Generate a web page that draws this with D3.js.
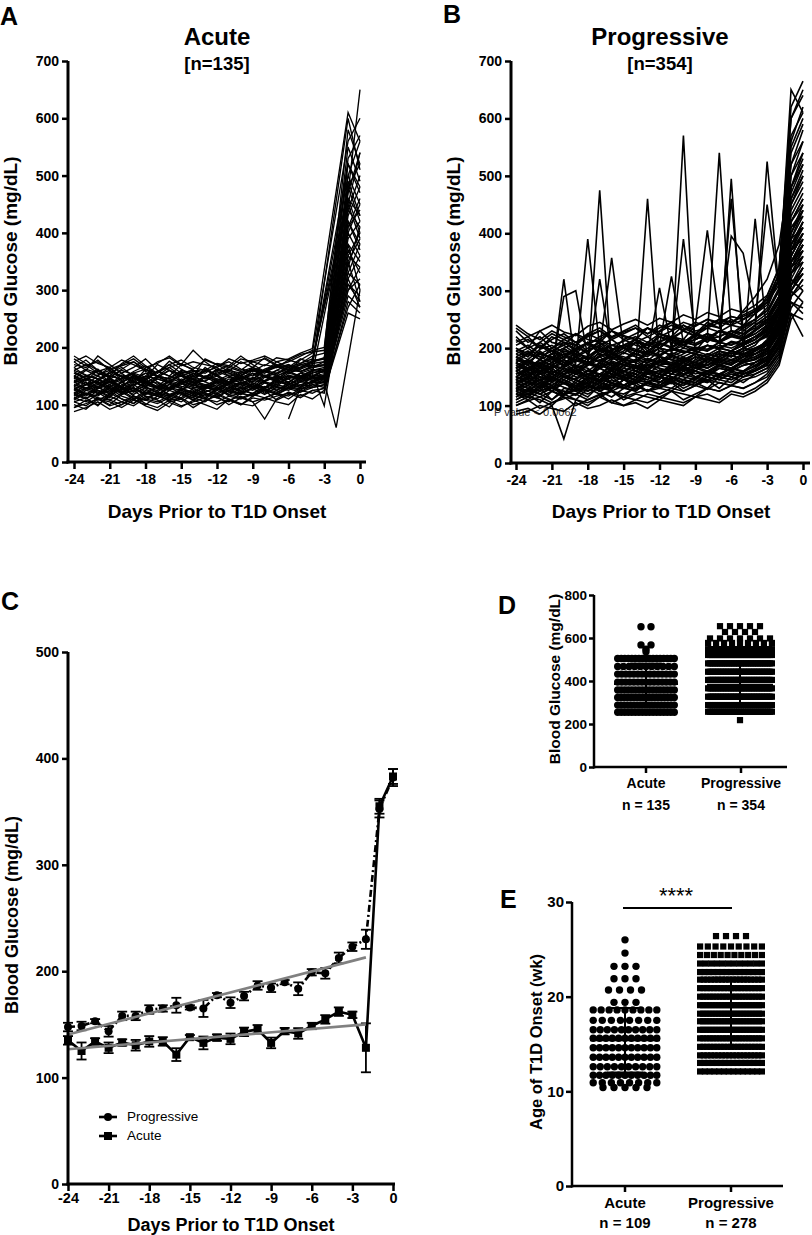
<!DOCTYPE html>
<html><head><meta charset="utf-8">
<script src="https://cdn.jsdelivr.net/npm/d3@7"></script>
<style>body{margin:0;background:#fff}svg{display:block}</style>
</head><body><svg id="c" width="812" height="1235"></svg>
<script>
// ---------------- DATA ----------------
const days = [-24,-23,-22,-21,-20,-19,-18,-17,-16,-15,-14,-13,-12,-11,-10,-9,-8,-7,-6,-5,-4,-3,-2,-1,0];
const dayTicks = [-24,-21,-18,-15,-12,-9,-6,-3,0];
const glucoseTicks700 = [0,100,200,300,400,500,600,700];
const glucoseTicks500 = [0,100,200,300,400,500];
const glucoseTicks800 = [0,200,400,600,800];
const ageTicks = [0,10,20,30];

// Panel A: individual Acute traces (days -24..0, "_" = no reading)
const acuteTraces = [
"120 135 128 140 122 130 118 125 140 132 128 135 120 138 145 130 142 150 138 155 148 160 _ 420 380",
"150 142 160 138 145 155 130 148 160 152 140 165 150 138 155 162 148 160 170 158 165 175 _ 480 520",
"105 112 98 120 110 102 115 108 96 118 112 105 120 110 100 115 125 108 118 122 130 135 _ 310 290",
"165 178 160 150 172 185 168 155 176 162 150 180 170 158 175 165 182 170 160 178 190 _ _ 560 600",
"130 118 125 112 135 128 120 132 115 126 140 122 130 118 128 135 120 138 145 132 150 140 _ 360 340",
"140 150 135 145 128 152 140 132 148 155 138 142 150 135 148 140 152 145 158 150 160 155 _ 400 450",
"95 108 100 115 105 98 112 120 105 110 95 108 115 100 112 105 75 110 122 115 125 120 _ 280 260",
"175 160 185 170 155 165 180 160 150 170 195 175 160 168 185 170 158 175 165 180 172 _ _ 520 470",
"125 140 118 132 126 140 130 122 136 128 118 132 126 140 122 135 128 145 132 140 138 150 _ 340 410",
"110 125 132 118 140 122 128 115 130 138 125 112 128 135 120 130 140 125 135 148 142 145 _ 380 300",
"155 145 140 158 150 138 162 148 140 155 160 145 152 140 158 165 150 142 160 170 168 170 _ 450 390",
"88 95 105 92 100 110 98 90 104 96 108 100 92 110 102 98 112 105 100 118 110 125 _ 260 250",
"135 128 145 130 120 138 150 135 125 142 132 148 138 128 140 135 150 142 138 155 150 160 _ 430 480",
"145 160 150 165 142 155 148 170 160 150 145 158 165 150 142 160 155 168 160 165 175 180 _ 500 560",
"118 110 125 120 132 115 108 122 118 112 128 120 115 125 130 118 125 132 128 135 140 138 _ 320 360",
"_ _ 130 142 128 135 145 130 125 138 145 132 128 140 135 128 142 148 140 150 145 150 _ 370 330",
"160 152 145 155 165 150 142 158 170 155 148 160 152 165 158 150 162 170 165 172 180 _ _ _ 540",
"128 120 115 130 122 110 125 118 130 120 112 126 118 130 124 120 132 125 138 130 142 148 _ 350 280",
"142 135 150 140 132 145 155 140 130 145 138 150 142 135 148 155 140 150 158 148 160 165 230 410 440",
"115 128 122 108 120 130 115 110 125 118 108 122 130 115 120 128 118 130 125 135 132 140 60 _ 300",
"185 172 160 150 145 158 168 150 140 155 160 148 155 162 150 145 160 168 155 165 175 _ _ 470 650",
"100 92 110 105 95 108 100 115 108 98 105 112 100 108 115 105 112 120 110 125 120 130 _ 290 270",
"150 138 130 145 155 140 132 148 160 142 135 150 145 138 152 160 148 155 165 158 168 _ _ 600 510",
"132 145 138 125 140 150 138 130 142 136 150 140 132 145 138 130 148 140 152 145 158 150 _ 390 420",
"122 115 128 135 118 125 132 120 115 128 122 130 138 125 118 130 124 135 130 140 148 145 _ 330 380",
"_ _ _ _ _ _ _ _ _ _ _ _ _ _ _ _ _ _ 75 130 150 160 _ 420 370",
"170 165 178 160 168 175 162 155 170 178 165 160 172 168 160 175 180 168 175 185 195 200 _ 550 490",
"140 128 135 148 130 125 140 138 128 135 145 130 125 140 148 138 130 145 150 142 155 _ _ 460 400",
"108 120 112 100 118 125 110 105 115 122 108 118 112 105 120 115 125 118 128 122 135 130 _ 300 320",
"155 148 162 145 138 152 145 158 150 142 155 148 162 155 145 152 160 155 162 170 165 168 _ 490 430",
"126 118 132 140 128 122 135 130 118 126 134 128 140 132 125 138 130 142 135 145 150 152 _ 440 410",
"160 170 155 148 162 175 158 150 165 172 160 155 168 175 162 158 170 165 178 172 185 190 _ 530 570",
"112 105 118 125 110 102 120 115 108 122 115 110 125 118 112 120 128 118 130 125 138 142 _ 300 340",
"138 145 130 122 140 148 135 128 142 150 138 132 145 140 135 148 142 150 145 155 162 158 _ 410 460",
"148 135 142 155 140 132 150 145 138 152 145 140 158 150 142 155 150 160 155 162 170 _ _ 500 450",
"95 102 110 98 105 115 102 95 108 112 100 106 118 108 100 112 108 115 120 112 125 128 _ 270 310",
"180 168 175 162 170 180 165 172 185 170 162 178 170 165 180 175 168 182 178 188 192 195 _ 580 520",
"132 125 120 135 128 118 130 125 135 128 122 135 130 125 138 132 128 140 135 142 148 150 _ 380 350",
"118 130 125 115 128 135 122 118 130 125 115 128 135 122 130 125 138 130 128 140 145 150 _ 360 400",
"165 150 158 165 148 155 162 150 145 160 155 148 162 158 150 165 158 165 170 162 178 180 _ 470 540",
"105 98 112 108 100 115 108 102 112 105 118 110 105 115 110 118 112 120 115 128 130 135 _ 310 280",
"142 150 145 135 152 145 138 150 145 140 155 148 142 152 148 145 158 150 160 158 165 170 _ 440 500",
"128 135 140 128 122 135 142 130 125 138 130 128 140 135 130 142 138 132 148 145 155 160 _ 400 360",
"150 162 155 148 160 152 145 158 165 150 158 162 150 160 155 162 158 168 162 170 175 182 _ 520 480",
"112 120 108 118 125 112 108 120 115 110 122 118 112 125 120 115 128 122 130 128 135 140 _ 330 310",
"_ _ _ _ 135 140 132 145 138 130 142 135 140 148 138 145 150 142 155 150 160 162 _ 460 430",
"175 185 172 165 178 170 160 175 182 168 175 170 165 180 172 178 185 175 180 190 198 _ _ 610 560",
"135 128 138 145 130 125 138 132 128 140 135 130 142 138 132 145 140 135 150 148 155 98 _ 350 390",
"120 112 118 128 115 108 122 118 112 125 120 115 128 122 118 130 125 120 135 130 140 145 _ 320 270",
"158 145 152 160 148 142 155 150 145 158 152 148 160 155 150 162 158 152 168 165 172 175 _ 480 420"
];

// Panel B: individual Progressive traces (days -24..0)
const progressiveTraces = [
"150 160 145 170 155 165 150 175 160 170 165 180 170 175 185 170 180 190 185 195 200 210 230 350 380",
"130 125 140 135 120 145 130 140 150 135 145 140 155 150 145 160 150 165 160 170 175 185 220 300 340",
"175 190 180 200 185 195 210 190 205 200 215 195 210 220 205 215 225 210 230 220 240 250 280 420 460",
"120 115 130 110 125 120 135 125 115 130 140 125 135 130 145 140 130 150 145 155 160 170 200 290 310",
"200 185 210 195 180 205 190 215 200 190 210 220 205 215 200 225 210 230 220 235 245 260 300 480 520",
"140 150 135 155 145 160 150 140 165 155 150 170 160 155 175 165 170 180 175 185 190 200 240 360 400",
"160 145 170 155 320 165 150 175 165 180 160 175 185 170 180 190 175 195 185 200 210 220 260 380 420",
"110 120 105 125 115 110 130 120 125 115 135 125 130 140 125 135 145 130 150 140 155 165 190 270 300",
"185 170 195 180 190 175 390 200 185 195 210 190 200 215 205 195 220 210 225 215 230 245 270 400 450",
"155 165 150 145 160 170 155 165 175 160 170 165 180 175 170 185 180 190 185 200 195 215 250 340 360",
"230 210 220 200 215 225 205 220 230 215 225 235 220 230 240 225 245 235 250 240 260 275 320 550 600",
"135 140 125 150 140 130 145 155 140 150 145 160 150 145 165 155 160 170 165 175 180 190 210 310 330",
"170 180 165 175 190 180 170 185 195 180 175 190 200 185 195 190 205 200 195 210 220 230 250 370 390",
"125 115 135 130 120 140 125 135 130 145 135 125 140 150 140 135 150 145 155 150 160 175 200 300 280",
"145 155 160 150 165 155 170 475 165 175 170 160 180 170 175 185 180 190 185 195 205 230 260 390 410",
"190 200 185 195 205 190 210 200 195 215 205 200 220 210 205 225 215 220 230 225 235 250 290 460 500",
"100 110 95 105 115 100 110 120 105 115 110 120 115 125 110 120 130 125 135 130 140 150 180 260 250",
"165 150 175 160 155 170 165 150 175 170 165 460 175 185 180 175 190 185 195 205 215 240 270 350 370",
"150 140 155 145 160 150 145 165 155 150 160 170 165 155 170 175 165 180 175 185 190 200 235 330 350",
"210 220 200 215 225 210 220 230 215 225 235 220 230 245 235 225 240 250 245 255 265 280 330 600 640",
"130 135 145 125 140 135 150 140 130 145 155 140 150 145 160 150 155 165 160 170 175 190 215 320 360",
"175 165 180 190 175 185 170 195 185 180 195 190 185 200 195 190 205 200 210 205 215 230 260 410 430",
"115 125 120 110 130 125 115 135 125 120 130 140 130 125 140 135 145 140 135 150 155 165 195 290 320",
"160 170 155 165 175 160 170 180 170 165 180 175 170 185 570 180 190 185 195 190 200 210 250 390 440",
"145 135 150 140 155 145 135 150 160 145 155 150 145 165 155 160 150 170 165 175 180 195 225 340 380",
"195 185 205 190 200 210 195 205 215 200 210 205 220 215 210 225 220 540 230 225 240 255 290 470 520",
"120 130 125 135 120 130 140 125 135 130 125 140 135 145 130 140 150 145 140 155 160 170 205 300 330",
"180 175 190 185 170 195 180 190 185 200 190 185 200 195 205 200 195 210 205 215 225 240 270 430 470",
"85 90 100 95 90 105 95 100 110 100 105 95 110 105 100 115 110 105 120 115 125 140 170 250 280",
"155 160 170 150 165 160 175 165 155 170 180 165 175 170 165 180 175 185 180 190 200 210 245 360 400",
"220 200 230 210 205 225 215 210 230 220 215 235 225 220 240 230 235 245 240 250 260 280 310 520 560",
"140 145 130 150 140 155 145 135 150 145 160 150 140 155 165 150 160 155 165 175 170 185 215 320 300",
"165 175 160 170 180 165 175 185 170 180 175 165 185 180 175 190 185 180 195 190 425 220 250 380 420",
"130 120 135 125 140 130 125 140 135 130 145 140 135 150 145 140 155 150 160 155 165 180 210 310 350",
"185 195 180 190 200 185 195 205 190 200 195 210 200 195 210 205 215 210 220 215 230 525 300 500 560",
"150 145 155 160 150 140 155 150 165 155 145 160 155 170 165 160 175 170 180 175 190 200 230 350 390",
"105 115 110 100 120 110 105 115 125 110 120 115 110 125 120 115 130 125 135 130 140 155 185 280 270",
"175 160 180 170 165 185 175 170 190 180 175 195 185 180 190 200 195 205 200 210 220 235 265 420 450",
"135 125 140 130 145 135 130 145 140 135 150 145 140 155 150 145 160 155 165 160 175 185 220 330 370",
"240 225 215 230 220 210 225 235 220 230 240 225 235 245 230 240 250 245 255 250 265 285 330 620 665",
"160 150 165 155 170 160 150 165 175 160 170 165 175 170 180 175 170 185 495 200 210 225 245 370 400",
"145 155 140 160 150 145 160 155 150 165 160 155 170 165 175 165 180 175 170 185 195 205 240 350 380",
"200 190 205 195 185 200 210 195 205 200 215 205 200 220 210 215 225 220 230 225 240 255 290 450 490",
"125 135 120 130 140 125 135 130 145 135 130 140 150 140 135 150 145 155 150 160 170 180 210 310 340",
"170 160 175 165 180 170 160 175 185 170 180 175 185 180 175 190 185 195 190 200 210 225 260 400 440",
"90 95 85 100 42 110 100 115 105 100 110 105 115 110 105 115 120 110 125 120 130 145 175 260 220",
"165 180 170 190 210 195 180 200 357 200 185 210 205 325 210 220 215 230 225 240 250 270 320 650 610",
"150 165 175 160 290 300 185 200 190 175 195 210 200 220 215 240 405 250 240 265 290 320 380 520 580",
"140 150 165 155 170 180 175 320 190 180 195 190 305 200 390 215 225 210 460 230 245 450 300 480 540",
"180 170 160 175 185 200 195 210 190 205 215 200 225 215 230 220 240 235 395 365 260 290 340 560 620",
"160 175 168 180 170 185 175 168 182 178 190 180 175 192 185 195 188 200 195 205 215 230 265 390 430",
"135 148 140 130 152 145 138 155 148 160 150 145 162 155 168 160 155 172 165 178 185 195 230 340 370",
"190 180 198 205 192 185 200 210 198 205 215 205 212 220 210 225 218 230 225 238 250 265 300 500 540",
"115 128 120 132 125 118 135 128 140 132 125 142 135 148 140 135 150 145 158 150 162 175 205 300 330",
"150 140 158 165 150 145 162 155 168 160 155 172 165 160 178 170 182 175 188 180 195 208 240 370 410",
"205 215 200 220 210 205 225 215 230 222 215 235 228 240 232 245 238 250 245 258 268 285 320 540 590",
"125 118 130 140 132 125 142 135 128 145 138 150 142 138 155 148 160 152 165 158 170 182 215 320 300",
"170 160 175 182 168 178 185 175 190 182 175 195 188 200 192 198 205 198 210 205 220 235 270 440 480",
"140 152 145 135 150 158 148 142 160 152 165 158 150 168 162 172 165 178 172 185 190 205 235 350 390",
"100 108 115 105 112 120 110 118 125 115 122 128 120 130 125 135 128 140 135 145 150 160 190 280 260",
"180 192 185 175 195 188 180 198 190 205 195 188 208 200 212 205 215 210 222 215 230 245 280 450 500",
"130 142 135 148 140 132 150 142 155 148 140 158 150 162 155 168 160 172 165 178 185 198 225 330 360",
"215 200 210 225 215 205 222 230 218 228 235 225 240 232 245 238 250 242 255 250 265 280 320 570 610",
"145 158 150 142 155 162 150 145 165 158 170 162 155 172 168 175 170 182 178 188 195 210 240 360 400",
"120 110 125 132 118 128 135 125 138 130 142 135 130 145 140 148 142 155 150 160 168 178 210 310 340",
"165 178 170 185 175 168 182 178 190 185 178 195 188 198 192 202 198 210 205 215 225 240 275 410 440",
"140 130 145 150 138 148 155 145 160 150 145 162 158 165 160 170 165 175 172 180 190 200 235 340 380",
"195 205 190 200 210 198 208 215 205 212 220 210 225 218 230 222 235 228 240 235 250 265 305 480 530",
"110 122 115 125 118 128 120 132 125 135 128 138 132 142 135 145 140 150 145 155 162 172 200 290 320",
"155 165 158 170 162 155 172 165 178 170 165 182 175 188 180 190 185 195 190 200 210 222 255 380 410",
"175 162 180 170 185 178 172 188 180 192 185 178 195 188 200 195 205 200 212 208 220 232 265 420 460",
"128 140 132 145 138 130 148 140 152 145 138 155 148 160 152 165 158 168 162 175 182 192 225 330 350",
"185 175 192 182 198 190 185 200 195 205 198 192 210 202 215 208 218 212 225 218 232 248 285 460 510",
"150 162 155 148 165 158 150 170 162 175 168 160 178 172 182 175 185 180 192 188 198 212 245 370 420",
"235 220 230 240 228 222 238 245 232 242 250 240 252 245 258 250 262 255 268 262 275 292 340 600 650"
];

// Panel C: group means and SEM (days -24..0)
const progressiveMean = [147.5,148.5,153,143.5,158,158,164,165,168,166,165,177.5,170.4,176.6,186.6,184.4,189.7,183.5,199,198,212.5,223,230,352.5,382];
const progressiveSem  = [4,4,2,5,4,4,4,3,7,2,8,2,5,4,4,4,2,6,3,5,5,4,9,8,8];
const acuteMean = [135,125,134,128,133,130.4,134,134,121.6,138,132.6,137.6,136.4,143,145.4,132.6,143.7,141.5,148.5,154.7,162,159,128,355,383];
const acuteSem  = [4,8,3,5,3,5,5,4,6,2,6,3,5,4,4,5,3,5,3,4,4,3,23,7,7];
const progressiveFit = [[-24,140.6],[-2,213]];
const acuteFit = [[-24,126.6],[-2,150]];

// Panel D: glucose at onset, rows of [value, count]
const groups = ["Acute","Progressive"];
const glucoseN = ["n = 135","n = 354"];
const acuteGlucoseRows = [[652,2],[568,2],[548,1],[536,1],[505,17],[468,11],[432,15],[395,15],[358,17],[323,19],[288,18],[255,17]];
const progressiveGlucoseRows = [[655,5],[628,4],[598,7],[577,9],[548,24],[521,32],[482,38],[443,40],[405,40],[366,40],[327,40],[288,38],[257,36],[218,1]];
const glucoseMean = [386,383];
const glucoseSD = [95,95];

// Panel E: age at onset, rows of [value, count]
const ageN = ["n = 109","n = 278"];
const acuteAgeRows = [[26.0,1],[24.6,1],[23.2,3],[21.9,3],[20.7,4],[19.4,3],[18.6,9],[17.5,8],[16.5,10],[15.6,11],[14.6,11],[13.6,11],[12.6,10],[11.7,11],[10.9,8],[10.4,5]];
const progressiveAgeRows = [[26.4,4],[25.3,9],[24.4,10],[23.5,12],[22.6,15],[21.8,18],[20.9,19],[20.0,20],[19.1,21],[18.2,21],[17.4,21],[16.5,21],[15.6,20],[14.7,19],[13.8,18],[13.0,16],[12.1,14]];
const ageMean = [15.4,18.3];
const ageSD = [3.4,3.7];

// ---------------- DRAW ----------------
const FONT = '"Liberation Sans", Arial, Helvetica, sans-serif';
const svg = d3.select('#c');

function txt(x,y,s,size,o={}){
  const t = svg.append('text').attr('x',x).attr('y',y).text(s)
    .style('font-family',FONT).style('font-size',size+'px').style('font-weight',o.w||'bold')
    .attr('text-anchor',o.a||'middle').attr('fill',o.c||'#000');
  if(o.rot) t.attr('transform',`rotate(-90,${x},${y})`);
  return t;
}
function styleAxis(g,fs){
  g.selectAll('.domain').remove();
  g.selectAll('.tick line').attr('stroke','#000').attr('stroke-width',2.5);
  g.selectAll('.tick text').attr('fill','#000').style('font-family',FONT)
    .style('font-size',fs+'px').style('font-weight','bold');
}
function axisLeft(x,scale,ticks,fs,size,pad){
  const g = svg.append('g').attr('transform',`translate(${x},0)`)
    .call(d3.axisLeft(scale).tickValues(ticks).tickSize(size).tickPadding(pad).tickSizeOuter(0).tickFormat(d=>String(d)));
  styleAxis(g,fs); return g;
}
function axisBottom(y,scale,ticks,fs,size,pad){
  const g = svg.append('g').attr('transform',`translate(0,${y})`)
    .call(d3.axisBottom(scale).tickValues(ticks).tickSize(size).tickPadding(pad).tickSizeOuter(0).tickFormat(d=>String(d)));
  styleAxis(g,fs); return g;
}
function hline(x1,x2,y,w=3){ svg.append('line').attr('x1',x1).attr('x2',x2).attr('y1',y).attr('y2',y).attr('stroke','#000').attr('stroke-width',w); }
function vline(x,y1,y2,w=3){ svg.append('line').attr('x1',x).attr('x2',x).attr('y1',y1).attr('y2',y2).attr('stroke','#000').attr('stroke-width',w); }
function parseTrace(s){
  return s.split(/\s+/).map((t,i)=>t==='_'?null:{d:days[i],v:+t}).filter(Boolean);
}

// ---- Panel A ----
const xA = d3.scaleLinear().domain([-24,0]).range([74,360]);
const yA = d3.scaleLinear().domain([0,700]).range([462,61]);
const lineA = d3.line().x(p=>xA(p.d)).y(p=>yA(p.v));
svg.append('g').selectAll('path').data(acuteTraces.map(parseTrace)).join('path')
  .attr('d',lineA).attr('fill','none').attr('stroke','#000').attr('stroke-width',1.35);
vline(68,61,463.5); hline(66.5,366,462);
axisLeft(68,yA,glucoseTicks700,14,6,3);
axisBottom(462,xA,dayTicks,14,7,5);
txt(217,45,'Acute',24);
txt(217,70,'[n=135]',18.5);
txt(17,261,'Blood Glucose (mg/dL)',19,{rot:true});
txt(217,518,'Days Prior to T1D Onset',19);
txt(0,25,'A',25,{a:'start'});

// ---- Panel B ----
const xB = d3.scaleLinear().domain([-24,0]).range([516,803]);
const yB = d3.scaleLinear().domain([0,700]).range([463,61]);
txt(494,416,'P value < 0.0062',11,{a:'start',w:'normal',c:'#333'});
const lineB = d3.line().x(p=>xB(p.d)).y(p=>yB(p.v));
svg.append('g').selectAll('path').data(progressiveTraces.map(parseTrace)).join('path')
  .attr('d',lineB).attr('fill','none').attr('stroke','#000').attr('stroke-width',1.6);
vline(511,61,464.5); hline(509.5,810,463);
axisLeft(511,yB,glucoseTicks700,14,6,3);
axisBottom(463,xB,dayTicks,14,7,5);
txt(660,45,'Progressive',24);
txt(660,70,'[n=354]',18.5);
txt(460,261,'Blood Glucose (mg/dL)',19,{rot:true});
txt(661,518,'Days Prior to T1D Onset',19);
txt(443,23,'B',25,{a:'start'});

// ---- Panel C ----
const xC = d3.scaleLinear().domain([-24,0]).range([68,393]);
const yC = d3.scaleLinear().domain([0,500]).range([1184,652]);
const progPts = days.map((d,i)=>({d,v:progressiveMean[i],e:progressiveSem[i]}));
const acutePts = days.map((d,i)=>({d,v:acuteMean[i],e:acuteSem[i]}));
const lineC = d3.line().x(p=>xC(p.d)).y(p=>yC(p.v));
[progPts,acutePts].forEach(pts=>{
  const g = svg.append('g').attr('stroke','#000').attr('stroke-width',1.8);
  pts.forEach(p=>{
    const x=xC(p.d);
    g.append('line').attr('x1',x).attr('x2',x).attr('y1',yC(p.v-p.e)).attr('y2',yC(p.v+p.e));
    g.append('line').attr('x1',x-5).attr('x2',x+5).attr('y1',yC(p.v-p.e)).attr('y2',yC(p.v-p.e));
    g.append('line').attr('x1',x-5).attr('x2',x+5).attr('y1',yC(p.v+p.e)).attr('y2',yC(p.v+p.e));
  });
});
svg.append('path').attr('d',lineC(acutePts)).attr('fill','none').attr('stroke','#000').attr('stroke-width',2.6);
svg.append('path').attr('d',lineC(progPts)).attr('fill','none').attr('stroke','#000').attr('stroke-width',2.6).attr('stroke-dasharray','7,3,2,3');
svg.append('g').selectAll('circle').data(progPts).join('circle')
  .attr('cx',p=>xC(p.d)).attr('cy',p=>yC(p.v)).attr('r',4).attr('fill','#000');
svg.append('g').selectAll('rect').data(acutePts).join('rect')
  .attr('x',p=>xC(p.d)-4).attr('y',p=>yC(p.v)-4).attr('width',8).attr('height',8).attr('fill','#000');
const fitLine = d3.line().x(p=>xC(p[0])).y(p=>yC(p[1]));
svg.append('path').attr('d',fitLine(progressiveFit)).attr('stroke','#808080').attr('stroke-width',2.6).attr('fill','none');
svg.append('path').attr('d',fitLine(acuteFit)).attr('stroke','#808080').attr('stroke-width',2.6).attr('fill','none');
vline(68,652,1185.5); hline(66.5,395,1184);
axisLeft(68,yC,glucoseTicks500,14,6,3);
axisBottom(1184,xC,dayTicks,14.5,7,2);
hline(99,117,1117,2.6); svg.append('circle').attr('cx',108).attr('cy',1117).attr('r',4);
hline(99,117,1136,2.6); svg.append('rect').attr('x',104).attr('y',1132).attr('width',8).attr('height',8);
txt(127,1121,'Progressive',13.5,{a:'start',w:'normal'});
txt(127,1140,'Acute',13.5,{a:'start',w:'normal'});
txt(18,915,'Blood Glucose (mg/dL)',18,{rot:true});
txt(231,1231,'Days Prior to T1D Onset',18);
txt(1,610,'C',25,{a:'start'});

// ---- scatter helper ----
function scatterRows(rows,cx,width,y,shape,size,maxStep){
  const pts=[];
  rows.forEach(([v,n])=>{
    const step = n>1 ? Math.min(maxStep,(width-size)/(n-1)) : 0;
    for(let i=0;i<n;i++) pts.push({x:cx+(i-(n-1)/2)*step, y:y(v)});
  });
  const g = svg.append('g').attr('fill','#000');
  if(shape==='circle') g.selectAll('circle').data(pts).join('circle').attr('cx',p=>p.x).attr('cy',p=>p.y).attr('r',size/2);
  else g.selectAll('rect').data(pts).join('rect').attr('x',p=>p.x-size/2).attr('y',p=>p.y-size/2).attr('width',size).attr('height',size);
}
function meanSD(cx,half,capHalf,m,sd,y){
  hline(cx-half,cx+half,y(m),2);
  vline(cx,y(m-sd),y(m+sd),2);
  hline(cx-capHalf,cx+capHalf,y(m-sd),2);
  hline(cx-capHalf,cx+capHalf,y(m+sd),2);
}

// ---- Panel D ----
const xD = d3.scalePoint().domain(groups).range([646,741]);
const yD = d3.scaleLinear().domain([0,800]).range([767,595]);
scatterRows(acuteGlucoseRows,646,64,yD,'circle',7.4,10);
scatterRows(progressiveGlucoseRows,740,70,yD,'rect',6.2,10);
meanSD(646,32,16,glucoseMean[0],glucoseSD[0],yD);
meanSD(740,33,16,glucoseMean[1],glucoseSD[1],yD);
vline(594,595,768.5,2.5); hline(593,787,767,2.5);
axisLeft(594,yD,glucoseTicks800,13.5,5,2);
groups.forEach((g,i)=>{ vline(xD(g),767,773,2.5); txt(xD(g),788,g,14); txt(xD(g),810,glucoseN[i],14); });
txt(560,679,'Blood Glucose (mg/dL)',15.5,{rot:true});
txt(498,614,'D',25,{a:'start'});

// ---- Panel E ----
const xE = d3.scalePoint().domain(groups).range([625,731]);
const yE = d3.scaleLinear().domain([0,30]).range([1186,902]);
scatterRows(acuteAgeRows,625,71,yE,'circle',7.4,11);
scatterRows(progressiveAgeRows,731,68,yE,'rect',6.2,10);
meanSD(625,35,18,ageMean[0],ageSD[0],yE);
meanSD(731,33,18,ageMean[1],ageSD[1],yE);
vline(572,902,1187.5,2.5); hline(571,783,1186,2.5);
axisLeft(572,yE,ageTicks,15,6,2);
groups.forEach((g,i)=>{ vline(xE(g),1186,1192,2.5); txt(xE(g),1208,g,15); txt(xE(g),1228,ageN[i],15); });
hline(623,732,908,2);
txt(676,903,'****',22,{w:'normal'});
txt(542,1042,'Age of T1D Onset (wk)',16.5,{rot:true});
txt(500,908,'E',25,{a:'start'});
</script></body></html>
